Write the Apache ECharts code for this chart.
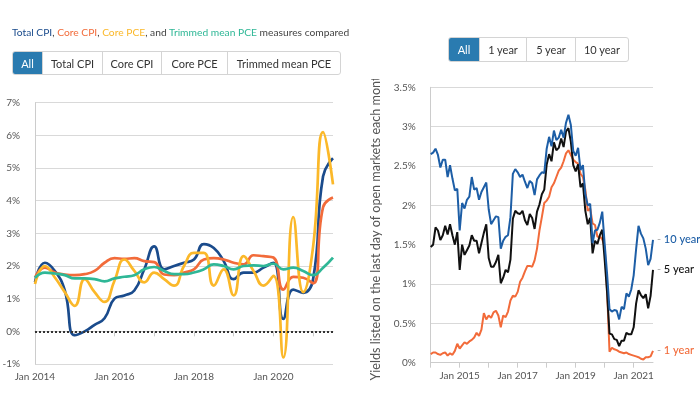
<!DOCTYPE html>
<html><head><meta charset="utf-8">
<script src="https://cdn.jsdelivr.net/npm/echarts@6/dist/echarts.min.js"></script>
<style>
body{margin:0;width:700px;height:393px;background:#fff;position:relative;overflow:hidden;font-family:Lato,sans-serif;}
#left{position:absolute;left:0;top:0;width:350px;height:393px;}
#right{position:absolute;left:350px;top:79px;width:350px;height:314px;}
.title{position:absolute;left:12px;top:26px;font-size:10.25px;color:#444;white-space:nowrap;}
.btns{position:absolute;display:flex;height:24px;border:1px solid #d4d4d4;border-radius:3px;box-sizing:border-box;overflow:hidden;}
.btn{display:flex;align-items:center;justify-content:center;font-size:11px;color:#333;border-left:1px solid #d4d4d4;box-sizing:border-box;height:100%;}
.btn:first-child{border-left:none;}
.btn.active{background:#2a7bb0;color:#fff;}
</style></head>
<body>
<div id="left"></div>
<div id="right"></div>
<div class="title"><span style="color:#1a4b8c">Total CPI</span>, <span style="color:#f26b3a">Core CPI</span>, <span style="color:#fbb829">Core PCE</span>, and <span style="color:#2fb796">Trimmed mean PCE</span> measures compared</div>
<div class="btns" style="left:12px;top:51px;">
<div class="btn active" style="width:29px">All</div><div class="btn" style="width:60px">Total CPI</div><div class="btn" style="width:59px">Core CPI</div><div class="btn" style="width:66px">Core PCE</div><div class="btn" style="width:113px">Trimmed mean PCE</div>
</div>
<div class="btns" style="left:448px;top:37px;height:25px;">
<div class="btn active" style="width:30px">All</div><div class="btn" style="width:47px">1 year</div><div class="btn" style="width:49px">5 year</div><div class="btn" style="width:53px">10 year</div>
</div>
<script>
// Left chart: quarterly inflation measures (%)
const quarters = ["Jan 2014","Apr 2014","Jul 2014","Oct 2014","Jan 2015","Apr 2015","Jul 2015","Oct 2015",
"Jan 2016","Apr 2016","Jul 2016","Oct 2016","Jan 2017","Apr 2017","Jul 2017","Oct 2017",
"Jan 2018","Apr 2018","Jul 2018","Oct 2018","Jan 2019","Apr 2019","Jul 2019","Oct 2019",
"Jan 2020","Apr 2020","Jul 2020","Oct 2020","Jan 2021","Apr 2021","Jul 2021"];
const totalCPI = [1.5,2.1,1.85,1.25,-0.12,0.0,0.2,0.4,1.0,1.1,1.25,1.9,2.6,1.9,2.0,2.1,2.2,2.67,2.55,2.15,1.6,1.8,1.8,1.95,2.1,0.38,1.28,1.18,1.6,4.75,5.3];
const coreCPI = [1.65,1.95,1.8,1.74,1.72,1.75,1.85,2.1,2.24,2.22,2.24,2.15,2.12,1.74,1.72,1.8,1.9,2.2,2.24,2.2,2.1,2.05,2.33,2.3,2.26,1.28,1.67,1.64,1.47,3.8,4.1];
const corePCE = [1.45,2.0,1.65,1.2,0.78,1.6,1.2,0.9,1.55,2.2,1.85,1.5,1.8,1.6,1.4,2.0,2.4,2.4,1.4,1.9,1.1,2.3,1.85,1.4,1.7,-0.8,3.5,1.2,2.6,6.1,4.5];
const trimmedPCE = [1.64,1.8,1.77,1.72,1.62,1.62,1.6,1.53,1.62,1.67,1.72,1.9,1.97,1.85,1.75,1.75,1.8,1.9,2.05,2.0,1.9,2.0,2.02,2.0,2.07,1.9,1.95,1.85,1.72,1.95,2.26];
const leftTicks = [-1,0,1,2,3,4,5,6,7];

// Right chart: monthly Treasury yields (%), Jan 2014 onward
const monthNames = ["Jan","Feb","Mar","Apr","May","Jun","Jul","Aug","Sep","Oct","Nov","Dec"];
const startYear = 2014;
const tenYear = [
2.65,2.67,2.72,2.64,2.48,2.58,2.58,2.36,2.51,2.34,2.19,2.21,
1.68,2.03,1.96,2.07,2.11,2.36,2.20,2.22,2.07,2.17,2.23,2.29,
1.95,1.76,1.81,1.86,1.85,1.45,1.55,1.60,1.62,1.85,2.40,2.46,
2.42,2.36,2.39,2.30,2.22,2.31,2.28,2.13,2.33,2.38,2.42,2.41,
2.72,2.87,2.75,2.95,2.83,2.86,2.96,2.86,3.05,3.15,3.02,2.69,
2.63,2.73,2.45,2.51,2.14,2.00,2.02,1.52,1.68,1.69,1.78,1.92,
1.51,1.13,0.68,0.65,0.67,0.66,0.55,0.71,0.68,0.88,0.84,0.93,
1.11,1.44,1.74,1.64,1.58,1.45,1.24,1.32,1.56];
const fiveYear = [
1.47,1.50,1.72,1.68,1.56,1.62,1.74,1.63,1.76,1.62,1.50,1.66,
1.18,1.50,1.37,1.43,1.49,1.62,1.55,1.55,1.39,1.52,1.65,1.76,
1.33,1.22,1.22,1.28,1.37,1.01,1.08,1.18,1.15,1.31,1.83,1.93,
1.90,1.89,1.93,1.81,1.75,1.89,1.84,1.70,1.92,2.01,2.14,2.20,
2.52,2.65,2.56,2.80,2.70,2.73,2.85,2.74,2.94,2.98,2.81,2.51,
2.43,2.52,2.23,2.28,1.93,1.76,1.84,1.39,1.55,1.51,1.62,1.69,
1.31,0.89,0.37,0.36,0.30,0.29,0.21,0.28,0.28,0.38,0.36,0.36,
0.45,0.75,0.92,0.86,0.82,0.87,0.69,0.85,1.18];
const oneYear = [
0.11,0.13,0.13,0.11,0.10,0.12,0.13,0.09,0.12,0.10,0.15,0.24,
0.18,0.22,0.26,0.24,0.27,0.29,0.32,0.38,0.34,0.42,0.63,0.55,
0.60,0.57,0.64,0.66,0.60,0.45,0.60,0.58,0.65,0.79,0.85,0.84,
0.90,1.03,1.08,1.16,1.23,1.23,1.22,1.30,1.45,1.68,1.85,2.03,
2.06,2.11,2.23,2.28,2.36,2.44,2.48,2.56,2.66,2.70,2.64,2.58,
2.55,2.53,2.40,2.36,2.20,1.93,1.96,1.77,1.75,1.60,1.60,1.57,
1.47,0.92,0.14,0.19,0.17,0.16,0.14,0.13,0.12,0.13,0.11,0.10,
0.09,0.08,0.07,0.05,0.04,0.07,0.07,0.08,0.15];
const months = tenYear.map((_, i) => monthNames[i % 12] + " " + (startYear + Math.floor(i / 12)));
const rightTicks = [0,0.5,1,1.5,2,2.5,3,3.5];

const FONT = 'Lato';
const gridColor = '#d9d9d9';
const labelColor = '#555';

const left = echarts.init(document.getElementById('left'), null, {renderer:'canvas'});
function lineSeries(name, data, color, width, extra) {
  return Object.assign({
    name, type:'line', data, smooth:true, showSymbol:false, symbol:'none',
    lineStyle:{color, width}, itemStyle:{color}, animation:false
  }, extra || {});
}
left.setOption({
  animation:false,
  textStyle:{fontFamily:FONT},
  grid:{left:35, top:102.7, width:298, height:261.3, containLabel:false, outerBoundsMode:'none'},
  xAxis:{type:'category', data:quarters, boundaryGap:false,
    axisLine:{show:true, lineStyle:{color:'#ccc'}},
    axisTick:{show:true, interval:3, length:5, lineStyle:{color:'#ccc'}},
    axisLabel:{interval:7, color:labelColor, fontSize:10, margin:8, fontFamily:FONT},
    splitLine:{show:false}},
  yAxis:{type:'value', min:leftTicks[0], max:leftTicks[leftTicks.length-1], interval:1,
    axisLine:{show:true, lineStyle:{color:'#ccc'}},
    axisTick:{show:false},
    axisLabel:{formatter:'{value}%', color:labelColor, fontSize:10, margin:15, fontFamily:FONT},
    splitLine:{lineStyle:{color:gridColor}}},
  series:[
    lineSeries('Total CPI', totalCPI, '#1a4b8c', 2.7, {
      markLine:{silent:true, symbol:'none', animation:false, label:{show:false},
        lineStyle:{type:[2,2], color:'#333', width:2}, data:[{yAxis:0}]}}),
    lineSeries('Core CPI', coreCPI, '#f26b3a', 2.7),
    lineSeries('Core PCE', corePCE, '#fbb829', 2.7),
    lineSeries('Trimmed mean PCE', trimmedPCE, '#2fb796', 2.7)
  ]
});

const right = echarts.init(document.getElementById('right'), null, {renderer:'canvas'});
function yieldSeries(name, data, color) {
  return {
    name, type:'line', data, showSymbol:false, symbol:'none',
    lineStyle:{color, width:2}, itemStyle:{color}, animation:false,
    endLabel:{show:true, distance:4, fontSize:11, fontWeight:500, fontFamily:FONT, color,
      formatter:'{d|-} ' + name, rich:{d:{color:'#aaa', fontWeight:'normal', fontSize:11}}}
  };
}
right.setOption({
  animation:false,
  textStyle:{fontFamily:FONT},
  grid:{left:80.7, top:8.3, width:222.3, height:275.4, containLabel:false, outerBoundsMode:'none'},
  xAxis:{type:'category', data:months, boundaryGap:false,
    axisLine:{show:true, lineStyle:{color:'#ccc'}},
    axisTick:{show:true, interval:11, length:5, lineStyle:{color:'#ccc'}},
    axisLabel:{interval:(i) => i % 24 === 12, color:labelColor, fontSize:10, margin:8, fontFamily:FONT},
    splitLine:{show:false}},
  yAxis:{type:'value', min:rightTicks[0], max:rightTicks[rightTicks.length-1], interval:0.5,
    name:'Yields listed on the last day of open markets each month',
    nameLocation:'middle', nameGap:41, nameRotate:90,
    nameTextStyle:{color:labelColor, fontSize:12.6, fontFamily:FONT},
    axisLine:{show:true, lineStyle:{color:'#ccc'}},
    axisTick:{show:false},
    axisLabel:{formatter:(v) => v + '%', color:labelColor, fontSize:10, margin:15, fontFamily:FONT},
    splitLine:{lineStyle:{color:gridColor}}},
  series:[
    yieldSeries('1 year', oneYear, '#f26b3a'),
    yieldSeries('5 year', fiveYear, '#111111'),
    yieldSeries('10 year', tenYear, '#1d5ea6')
  ]
});
</script>
</body></html>
